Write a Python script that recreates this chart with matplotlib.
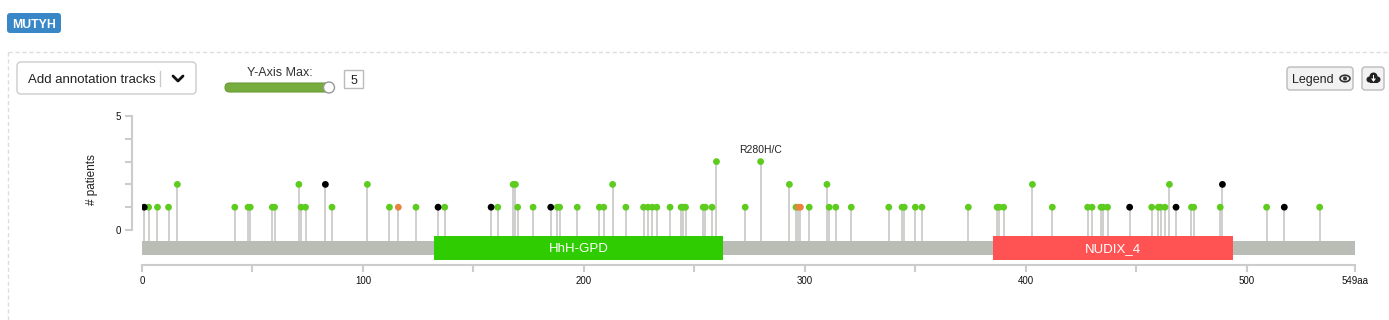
import matplotlib.pyplot as plt
from matplotlib.patches import FancyBboxPatch, Rectangle, Circle, Ellipse, Polygon

plt.rcParams['font.family'] = ['Liberation Sans', 'DejaVu Sans']

gene = 'MUTYH'
protein_length = 549
y_max = 5

# mutations: residue position and number of patients
missense_pos = [3, 7, 12, 16, 42, 48, 49, 59, 60, 71, 72, 74, 86, 102, 112, 124, 137,
                161, 168, 169, 170, 177, 188, 189, 197, 207, 209, 213, 219, 227, 229,
                231, 233, 239, 244, 245, 246, 254, 255, 258, 260, 273, 280, 293, 296,
                302, 310, 311, 314, 321, 338, 344, 345, 350, 353, 374, 387, 388, 390,
                403, 412, 428, 430, 434, 435, 437, 457, 460, 461, 463, 465, 475, 476,
                488, 509, 533]
missense_cnt = [1, 1, 1, 2, 1, 1, 1, 1, 1, 2, 1, 1, 1, 2, 1, 1, 1,
                1, 2, 2, 1, 1, 1, 1, 1, 1, 1, 2, 1, 1, 1,
                1, 1, 1, 1, 1, 1, 1, 1, 1, 3, 1, 3, 2, 1,
                1, 2, 1, 1, 1, 1, 1, 1, 1, 1, 1, 1, 1, 1,
                2, 1, 1, 1, 1, 1, 1, 1, 1, 1, 1, 2, 1, 1,
                1, 1, 1]
trunc_pos = [1, 83, 134, 158, 185, 447, 468, 489, 517]
trunc_cnt = [1, 2, 1, 1, 1, 1, 1, 2, 1]
inframe_pos = [116, 297, 298]
inframe_cnt = [1, 1, 1]

domain_names = ['HhH-GPD', 'NUDIX_4']
domain_start = [132, 385]
domain_end = [263, 494]
domain_colors = ['#2ecc00', '#ff5353']

hotspot_label = 'R280H/C'
hotspot_pos = 280
hotspot_cnt = 3

x_ticks = [0, 50, 100, 150, 200, 250, 300, 350, 400, 450, 500, 549]
x_ticklabels = ['0', '', '100', '', '200', '', '300', '', '400', '', '500', '549aa']

W, H = 1389, 320
fig = plt.figure(figsize=(W / 100, H / 100), dpi=100)

# page chrome drawn in pixel coordinates
ui = fig.add_axes([0, 0, 1, 1])
ui.set_xlim(0, W)
ui.set_ylim(H, 0)
ui.axis('off')

ui.add_patch(FancyBboxPatch((7, 13), 54, 20, boxstyle='round,pad=0,rounding_size=3',
                            fc='#3a87c8', ec='none'))
ui.text(34, 23.5, gene, color='white', fontsize=8.8, fontweight='bold', ha='center', va='center_baseline')

ui.plot([7.5, 7.5], [H, 51.5], color='#dddddd', lw=1, ls=(0, (3, 2)))
ui.plot([7.5, W], [51.5, 51.5], color='#dddddd', lw=1, ls=(0, (3, 2)))

ui.add_patch(FancyBboxPatch((17, 62), 179, 32, boxstyle='round,pad=0,rounding_size=4',
                            fc='white', ec='#cccccc', lw=1))
ui.text(28, 78.5, 'Add annotation tracks', fontsize=9.5, ha='left', va='center_baseline', color='#222222')
ui.plot([160, 160], [71, 86], color='#cccccc', lw=1)
ui.plot([173, 178, 183], [76, 81, 76], color='#111111', lw=2, solid_capstyle='round')

ui.text(280, 72, 'Y-Axis Max:', fontsize=9, ha='center', va='center_baseline', color='#333333')
ui.add_patch(FancyBboxPatch((225, 83), 108, 9, boxstyle='round,pad=0,rounding_size=4.5',
                            fc='#77ad3f', ec='#6a9a38', lw=0.8))
ui.add_patch(Circle((329, 87.5), 5.5, fc='white', ec='#999999', lw=1, zorder=3))
ui.add_patch(Rectangle((344, 70), 19, 18, fc='white', ec='#bbbbbb', lw=1))
ui.text(353.5, 79, str(y_max), fontsize=9, ha='center', va='center_baseline', color='#222222')

ui.add_patch(FancyBboxPatch((1287, 67), 66, 23, boxstyle='round,pad=0,rounding_size=3',
                            fc='#f2f2f2', ec='#bbbbbb', lw=1))
ui.text(1292, 78.5, 'Legend', fontsize=9, ha='left', va='center_baseline', color='#222222')
ui.add_patch(Ellipse((1345, 78.5), 10, 6.5, fc='none', ec='#333333', lw=1.2))
ui.add_patch(Circle((1345, 78.5), 2, fc='#333333', ec='none'))
ui.add_patch(FancyBboxPatch((1362, 67), 22, 23, boxstyle='round,pad=0,rounding_size=3',
                            fc='#f2f2f2', ec='#bbbbbb', lw=1))
for cx, cy, r in [(1369.5, 79.5, 3), (1373.5, 76.5, 4), (1377.5, 79.5, 3)]:
    ui.add_patch(Circle((cx, cy), r, fc='#222222', ec='none'))
ui.add_patch(Rectangle((1369.5, 79), 8, 3.5, fc='#222222', ec='none'))
ui.add_patch(Polygon([(1371, 78.5), (1376, 78.5), (1373.5, 82)], fc='white', ec='none'))
ui.add_patch(Rectangle((1372.7, 75), 1.6, 4, fc='white', ec='none'))

ui.text(92, 180, '# patients', rotation=90, fontsize=8.5, ha='center', va='center', color='#222222')

# lollipop plot
top_px, bot_px = 100, 292
y0_px, y5_px = 230, 116
upp = y_max / (y0_px - y5_px)
ax = fig.add_axes([142 / W, 1 - bot_px / H, (1355 - 142) / W, (bot_px - top_px) / H])
ax.set_xlim(0, protein_length)
ax.set_ylim(-(bot_px - y0_px) * upp, y_max + (y5_px - top_px) * upp)
ax.patch.set_visible(False)

bb_top = -11 * upp
ax.add_patch(Rectangle((0, -25 * upp), protein_length, 14 * upp, fc='#babdb6', ec='none', zorder=2))
for name, s, e, c in zip(domain_names, domain_start, domain_end, domain_colors):
    ax.add_patch(Rectangle((s, -30 * upp), e - s, 24 * upp, fc=c, ec='none', zorder=3))
    ax.text((s + e) / 2, -18 * upp, name, color='white', fontsize=9.5, ha='center',
            va='center_baseline', zorder=4)

for pos, cnt, col in [(missense_pos, missense_cnt, '#5ecb1f'),
                      (trunc_pos, trunc_cnt, '#000000'),
                      (inframe_pos, inframe_cnt, '#e8843c')]:
    ax.vlines(pos, bb_top, cnt, color='#c2c2c0', lw=1.1, zorder=1)
    ax.scatter(pos, cnt, s=24, color=col, edgecolors='none', zorder=5)

ax.annotate(hotspot_label, (hotspot_pos, hotspot_cnt), xytext=(0, 5), textcoords='offset points',
            ha='center', va='bottom', fontsize=7.5, color='#222222')

for side in ['top', 'right']:
    ax.spines[side].set_visible(False)
ax.spines['left'].set_position(('data', -10 / 2.21))
ax.spines['left'].set_bounds(0, y_max)
ax.spines['bottom'].set_position(('data', -(264.5 - y0_px) * upp))
ax.spines['bottom'].set_bounds(0, protein_length)
for side in ['left', 'bottom']:
    ax.spines[side].set_color('#cccccc')
    ax.spines[side].set_linewidth(1.5)

ax.set_yticks(range(y_max + 1))
ax.set_yticklabels(['0', '', '', '', '', str(y_max)])
ax.set_xticks(x_ticks)
ax.set_xticklabels(x_ticklabels)
ax.tick_params(axis='both', length=5, width=1.5, color='#cccccc', labelsize=7, labelcolor='#111111', pad=3)

fig.savefig('out.png', dpi=100)
